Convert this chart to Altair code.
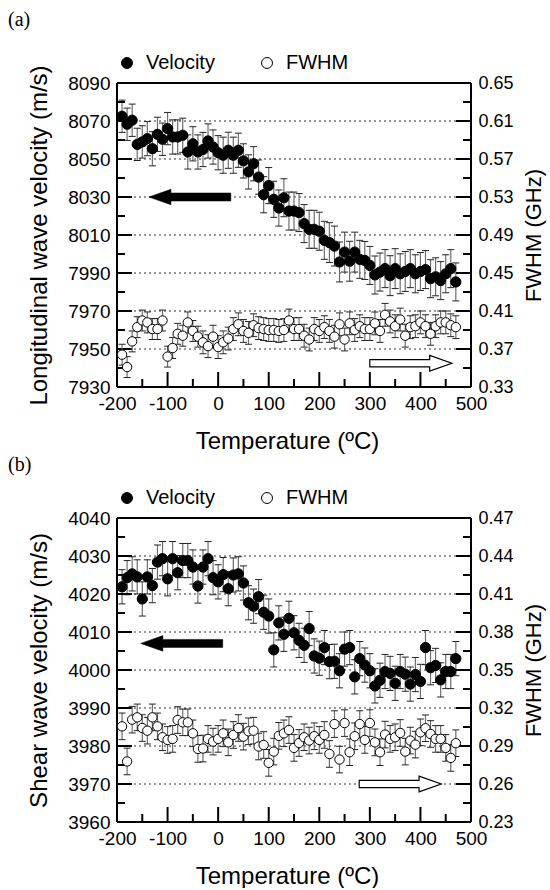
import altair as alt
import pandas as pd

FONT = "Liberation Sans"
SERIF = "Liberation Serif"

# ---------------- data ----------------
TEMPS = [-190, -180, -170, -160, -150, -140, -130, -120, -110, -100,
         -90, -80, -70, -60, -50, -40, -30, -20, -10, 0,
         10, 20, 30, 40, 50, 60, 70, 80, 90, 100,
         110, 120, 130, 140, 150, 160, 170, 180, 190, 200,
         210, 220, 230, 240, 250, 260, 270, 280, 290, 300,
         310, 320, 330, 340, 350, 360, 370, 380, 390, 400,
         410, 420, 430, 440, 450, 460, 470]

LONG_VEL = [8072.5, 8068.3, 8070.4, 8057.7, 8059.0, 8060.7, 8055.4, 8063.0, 8060.4, 8066.0,
            8061.6, 8061.6, 8062.5, 8053.7, 8058.0, 8053.7, 8055.0, 8059.5, 8056.3, 8053.3,
            8052.0, 8054.6, 8052.0, 8054.6, 8049.0, 8043.2, 8047.5, 8040.5, 8031.2, 8036.0,
            8028.8, 8024.2, 8029.6, 8022.6, 8022.6, 8021.8, 8016.0, 8013.0, 8013.0, 8012.0,
            8007.2, 8006.0, 8004.2, 7995.8, 8001.0, 7996.2, 8001.0, 7997.2, 7996.6, 7994.0,
            7989.0, 7990.5, 7992.3, 7988.6, 7992.3, 7989.6, 7990.8, 7992.3, 7989.6, 7990.8,
            7991.8, 7987.0, 7988.0, 7986.0, 7989.6, 7992.3, 7985.3]
LONG_VEL_ERR = [8.5, 8.5, 8.5, 8.5, 8.5, 9.0, 9.0, 9.0, 8.5, 8.5,
                9.0, 9.0, 9.0, 9.0, 9.0, 9.0, 9.0, 9.0, 9.0, 9.0,
                9.5, 9.5, 9.5, 9.0, 9.0, 9.0, 9.0, 9.0, 9.5, 9.5,
                9.5, 9.5, 10.0, 10.0, 10.0, 10.0, 10.0, 10.0, 10.0, 10.0,
                10.0, 10.5, 10.5, 10.5, 10.5, 10.5, 10.5, 10.0, 10.0, 10.0,
                10.0, 10.0, 10.0, 10.5, 10.5, 10.5, 10.5, 10.0, 10.0, 10.0,
                10.0, 10.0, 10.0, 10.0, 10.0, 10.0, 10.0]
LONG_FWHM = [0.364, 0.351, 0.378, 0.393, 0.400, 0.398, 0.391, 0.391, 0.400, 0.362,
             0.371, 0.386, 0.384, 0.398, 0.389, 0.383, 0.377, 0.373, 0.383, 0.372,
             0.377, 0.381, 0.391, 0.396, 0.389, 0.387, 0.395, 0.392, 0.391, 0.390,
             0.390, 0.389, 0.390, 0.400, 0.391, 0.391, 0.384, 0.380, 0.391, 0.389,
             0.393, 0.389, 0.383, 0.396, 0.380, 0.397, 0.390, 0.394, 0.391, 0.391,
             0.397, 0.389, 0.406, 0.399, 0.394, 0.401, 0.384, 0.393, 0.394, 0.398,
             0.394, 0.386, 0.394, 0.398, 0.398, 0.395, 0.393]
LONG_FWHM_ERR = [0.011, 0.011, 0.011, 0.011, 0.011, 0.011, 0.011, 0.011, 0.011, 0.011,
                 0.011, 0.011, 0.011, 0.011, 0.011, 0.011, 0.012, 0.012, 0.012, 0.012,
                 0.012, 0.012, 0.012, 0.012, 0.012, 0.012, 0.012, 0.012, 0.012, 0.012,
                 0.012, 0.012, 0.012, 0.012, 0.012, 0.012, 0.012, 0.012, 0.012, 0.012,
                 0.012, 0.012, 0.012, 0.012, 0.012, 0.012, 0.012, 0.012, 0.012, 0.012,
                 0.012, 0.012, 0.012, 0.012, 0.012, 0.012, 0.012, 0.012, 0.012, 0.012,
                 0.012, 0.012, 0.012, 0.012, 0.012, 0.012, 0.012]

SHEAR_VEL = [4021.9, 4024.3, 4025.3, 4024.5, 4018.7, 4024.5, 4022.2, 4028.4, 4029.3, 4024.0,
             4029.3, 4025.6, 4028.8, 4028.8, 4027.1, 4022.1, 4027.1, 4029.3, 4024.3, 4023.2,
             4025.1, 4021.4, 4025.0, 4025.3, 4022.9, 4017.7, 4016.8, 4019.3, 4015.2, 4014.2,
             4005.3, 4012.4, 4009.4, 4013.6, 4009.8, 4007.8, 4006.5, 4010.9, 4003.7, 4003.1,
             4005.9, 4002.2, 4002.3, 3999.8, 4005.5, 4005.9, 3998.2, 4003.0, 4001.3, 3999.8,
             3995.8, 3997.3, 3999.6, 3999.1, 3996.5, 3999.6, 3998.9, 3996.3, 3998.8, 3997.0,
             4005.9, 4000.6, 4001.2, 3997.4, 3999.6, 3999.6, 4003.0]
SHEAR_VEL_ERR = [4.5, 4.5, 4.5, 4.5, 4.5, 4.5, 4.5, 4.5, 4.5, 4.5,
                 4.5, 4.5, 4.5, 4.5, 4.5, 4.5, 4.5, 4.5, 4.5, 4.5,
                 4.5, 4.5, 4.5, 4.5, 4.5, 4.5, 4.5, 4.5, 4.5, 4.5,
                 4.5, 4.5, 4.5, 4.5, 4.5, 4.5, 4.5, 4.5, 4.5, 4.5,
                 4.5, 4.5, 4.5, 4.5, 4.5, 4.5, 4.5, 4.5, 4.5, 4.5,
                 4.5, 4.5, 4.5, 4.5, 4.5, 4.5, 4.5, 4.5, 4.5, 4.5,
                 4.5, 4.5, 4.5, 4.5, 4.5, 4.5, 4.5]
SHEAR_FWHM = [0.3055, 0.2778, 0.3108, 0.3126, 0.3042, 0.3021, 0.3126, 0.3055, 0.2969, 0.2948,
              0.2956, 0.3105, 0.3087, 0.3087, 0.3000, 0.2877, 0.2880, 0.2956, 0.2935, 0.2956,
              0.3000, 0.2929, 0.2987, 0.3042, 0.2974, 0.3016, 0.3021, 0.2896, 0.2908, 0.2767,
              0.2856, 0.2980, 0.3000, 0.3026, 0.2885, 0.2924, 0.2969, 0.2943, 0.2977, 0.2948,
              0.2987, 0.2837, 0.3073, 0.2793, 0.3081, 0.2851, 0.2977, 0.3073, 0.2948, 0.3081,
              0.2929, 0.2851, 0.2990, 0.2956, 0.2969, 0.3003, 0.2856, 0.2943, 0.2911, 0.3008,
              0.3040, 0.2995, 0.2956, 0.2956, 0.2885, 0.2806, 0.2922]
SHEAR_FWHM_ERR = [0.0105, 0.0105, 0.0105, 0.0105, 0.0105, 0.0105, 0.0105, 0.0105, 0.0105, 0.0105,
                  0.0105, 0.0105, 0.0105, 0.0105, 0.0105, 0.0105, 0.0105, 0.0105, 0.0105, 0.0105,
                  0.0105, 0.0105, 0.0105, 0.0105, 0.0105, 0.0105, 0.0105, 0.0105, 0.0105, 0.0105,
                  0.0105, 0.0105, 0.0105, 0.0105, 0.0105, 0.0105, 0.0105, 0.0105, 0.0105, 0.0105,
                  0.0105, 0.0105, 0.0105, 0.0105, 0.0105, 0.0105, 0.0105, 0.0105, 0.0105, 0.0105,
                  0.0105, 0.0105, 0.0105, 0.0105, 0.0105, 0.0105, 0.0105, 0.0105, 0.0105, 0.0105,
                  0.0105, 0.0105, 0.0105, 0.0105, 0.0105, 0.0105, 0.0105]

# axis ranges, ticks, labels
X_DOMAIN = [-200, 500]
X_LABELS = [-200, -100, 0, 100, 200, 300, 400, 500]
X_MAJOR = [-100, 0, 100, 200, 300, 400]
X_MINOR = [-150, -50, 50, 150, 250, 350, 450]

TOP_V_DOMAIN = [7930, 8090]
TOP_F_DOMAIN = [0.33, 0.65]
TOP_V_LABELS = [7930, 7950, 7970, 7990, 8010, 8030, 8050, 8070, 8090]
TOP_V_GRID = [7950, 7970, 7990, 8010, 8030, 8050, 8070]
TOP_V_MINOR = [7940, 7960, 7980, 8000, 8020, 8040, 8060, 8080]
TOP_F_LABELS = [0.33, 0.37, 0.41, 0.45, 0.49, 0.53, 0.57, 0.61, 0.65]

BOT_V_DOMAIN = [3960, 4040]
BOT_F_DOMAIN = [0.23, 0.47]
BOT_V_LABELS = [3960, 3970, 3980, 3990, 4000, 4010, 4020, 4030, 4040]
BOT_V_GRID = [3970, 3980, 3990, 4000, 4010, 4020, 4030]
BOT_V_MINOR = [3965, 3975, 3985, 3995, 4005, 4015, 4025, 4035]
BOT_F_LABELS = [0.23, 0.26, 0.29, 0.32, 0.35, 0.38, 0.41, 0.44, 0.47]

# arrow annotations (temperature, velocity)
TOP_ARROW_FILLED = (-56, 8030)
TOP_ARROW_OPEN = (381, 7942.5)
BOT_ARROW_FILLED = (-72, 4007)
BOT_ARROW_OPEN = (360, 3970)

W, H = 354, 304

LEFT_ARROW = "M -1 0 L -0.46 -0.19 L -0.46 -0.098 L 1 -0.098 L 1 0.098 L -0.46 0.098 L -0.46 0.19 Z"
RIGHT_ARROW = "M -1 -0.088 L 0.46 -0.088 L 0.46 -0.19 L 1 0 L 0.46 0.19 L 0.46 0.088 L -1 0.088 Z"


def panel(tag, vel, verr, fw, ferr, vdom, fdom, vlabels, vgrid, vminor, flabels,
          ytitle, arrow_filled, arrow_open, title_offset):
    dv = pd.DataFrame({"T": TEMPS, "v": vel, "e": verr})
    dv["lo"] = dv["v"] - dv["e"]
    dv["hi"] = dv["v"] + dv["e"]
    dv["series"] = "Velocity"
    dfw = pd.DataFrame({"T": TEMPS, "f": fw, "e": ferr})
    dfw["lo"] = dfw["f"] - dfw["e"]
    dfw["hi"] = dfw["f"] + dfw["e"]
    dfw["series"] = "FWHM"

    xs = alt.Scale(domain=X_DOMAIN, nice=False, zero=False)
    xa = alt.Axis(values=X_LABELS, ticks=False, domain=False, grid=False,
                  labelExpr="'' + datum.value", labelFontSize=19, labelPadding=7,
                  labelFlush=False, labelOverlap=False,
                  labelFont=FONT, labelColor="black",
                  title="Temperature (ºC)", titleFont=FONT, titleFontSize=24,
                  titleFontWeight="normal", titleColor="black", titlePadding=16,
                  titleX=170)
    vs = alt.Scale(domain=vdom, nice=False, zero=False)
    va = alt.Axis(values=vlabels, orient="left", ticks=False, domain=False, grid=False,
                  labelFontSize=19, labelPadding=7, labelFont=FONT, labelColor="black",
                  labelOverlap=False, labelFlush=False,
                  format="d", title=ytitle, titleFont=FONT, titleFontSize=24,
                  titleFontWeight="normal", titleColor="black", titlePadding=16)
    fs = alt.Scale(domain=fdom, nice=False, zero=False)
    fa = alt.Axis(values=flabels, orient="right", ticks=False, domain=False, grid=False,
                  labelFontSize=18, labelPadding=7, labelFont=FONT, labelColor="black",
                  labelOverlap=False, labelFlush=False,
                  labelExpr="format(datum.value, '.2f')",
                  title="FWHM (GHz)", titleFont=FONT, titleFontSize=22,
                  titleFontWeight="normal", titleColor="black", titlePadding=10,
                  titleAngle=270, titleBaseline="top")

    def X(f):
        return alt.X(f, type="quantitative", scale=xs, axis=xa)

    def VY(f):
        return alt.Y(f, type="quantitative", scale=vs, axis=va)

    def FY(f):
        return alt.Y(f, type="quantitative", scale=fs, axis=fa)

    fill_scale = alt.Scale(domain=["Velocity", "FWHM"], range=["black", "white"])
    legend = alt.Legend(orient="none", legendX=0, legendY=-30, direction="horizontal",
                        title=None, labelFont=FONT, labelFontSize=20, labelColor="black",
                        symbolType="circle", symbolSize=120, symbolStrokeColor="black",
                        symbolStrokeWidth=1, columnPadding=42, labelOffset=9, padding=0)

    grid = alt.Chart(pd.DataFrame({"g": vgrid})).mark_rule(
        strokeDash=[2, 3], color="#333", strokeWidth=1).encode(y=VY("g"))

    # frame drawn at the scale domain edges
    frame_v = alt.Chart(pd.DataFrame({"x0": X_DOMAIN})).mark_rule(
        color="black", strokeWidth=2).encode(x=X("x0"))
    frame_h = alt.Chart(pd.DataFrame({"y0": vdom})).mark_rule(
        color="black", strokeWidth=2).encode(y=VY("y0"))

    # inward ticks, anchored on the frame edges
    def yticks(vals, edge, size, off):
        d = pd.DataFrame({"t": vals})
        d["x0"] = edge
        return alt.Chart(d).mark_tick(orient="horizontal", size=size, thickness=2,
                                      color="black", opacity=1, xOffset=off).encode(
            x=X("x0"), y=VY("t"))

    def xticks(vals, size):
        d = pd.DataFrame({"t": vals})
        d["y0"] = vdom[0]
        return alt.Chart(d).mark_tick(orient="vertical", size=size, thickness=2,
                                      color="black", opacity=1, yOffset=-size / 2).encode(
            x=X("t"), y=VY("y0"))

    lt_major = yticks(vgrid, X_DOMAIN[0], 15, 7.5)
    lt_minor = yticks(vminor, X_DOMAIN[0], 8, 4)
    rt_major = yticks(vgrid, X_DOMAIN[1], 15, -7.5)
    rt_minor = yticks(vminor, X_DOMAIN[1], 8, -4)
    xt_major = xticks(X_MAJOR, 15)
    xt_minor = xticks(X_MINOR, 8)

    bv = alt.Chart(dv)
    v_stem = bv.mark_rule(color="#6e6e6e", strokeWidth=1.2).encode(x=X("T"), y=VY("lo"), y2="hi")
    v_cap_lo = bv.mark_tick(orient="horizontal", size=7, thickness=1, color="#222", opacity=1).encode(
        x=X("T"), y=VY("lo"))
    v_cap_hi = bv.mark_tick(orient="horizontal", size=7, thickness=1, color="#222", opacity=1).encode(
        x=X("T"), y=VY("hi"))
    v_pts = bv.mark_point(shape="circle", size=105, filled=True, stroke="black",
                          strokeWidth=1, opacity=1).encode(
        x=X("T"), y=VY("v"), fill=alt.Fill("series:N", scale=fill_scale, legend=legend))

    arr1 = alt.Chart(pd.DataFrame({"T": [arrow_filled[0]], "v": [arrow_filled[1]]})).mark_point(
        shape=LEFT_ARROW, size=6724, filled=True, fill="black", stroke="black",
        strokeWidth=0.5, opacity=1).encode(x=X("T"), y=VY("v"))
    arr2 = alt.Chart(pd.DataFrame({"T": [arrow_open[0]], "v": [arrow_open[1]]})).mark_point(
        shape=RIGHT_ARROW, size=6724, filled=True, fill="white", stroke="black",
        strokeWidth=1.2, opacity=1, fillOpacity=1, strokeOpacity=1).encode(x=X("T"), y=VY("v"))

    bf = alt.Chart(dfw)
    f_stem = bf.mark_rule(color="#6e6e6e", strokeWidth=1.2).encode(x=X("T"), y=FY("lo"), y2="hi")
    f_cap_lo = bf.mark_tick(orient="horizontal", size=7, thickness=1, color="#222", opacity=1).encode(
        x=X("T"), y=FY("lo"))
    f_cap_hi = bf.mark_tick(orient="horizontal", size=7, thickness=1, color="#222", opacity=1).encode(
        x=X("T"), y=FY("hi"))
    f_pts = bf.mark_point(shape="circle", size=88, filled=True, stroke="black",
                          strokeWidth=1, opacity=1).encode(
        x=X("T"), y=FY("f"), fill=alt.Fill("series:N", scale=fill_scale, legend=legend))

    vel_layer = alt.layer(grid, v_stem, v_cap_lo, v_cap_hi, v_pts, arr1, arr2,
                          frame_v, frame_h, lt_major, lt_minor, rt_major, rt_minor,
                          xt_major, xt_minor)
    fw_layer = alt.layer(f_stem, f_cap_lo, f_cap_hi, f_pts)
    return alt.layer(vel_layer, fw_layer).resolve_scale(y="independent").properties(
        width=W, height=H,
        title=alt.TitleParams(tag, anchor="start", frame="group", font=SERIF, fontSize=20,
                              fontWeight="normal", color="black", dx=-109,
                              offset=title_offset))


top = panel("(a)", LONG_VEL, LONG_VEL_ERR, LONG_FWHM, LONG_FWHM_ERR, TOP_V_DOMAIN, TOP_F_DOMAIN,
            TOP_V_LABELS, TOP_V_GRID, TOP_V_MINOR, TOP_F_LABELS,
            "Longitudinal wave velocity (m/s)", TOP_ARROW_FILLED, TOP_ARROW_OPEN, 23)
bottom = panel("(b)", SHEAR_VEL, SHEAR_VEL_ERR, SHEAR_FWHM, SHEAR_FWHM_ERR, BOT_V_DOMAIN, BOT_F_DOMAIN,
               BOT_V_LABELS, BOT_V_GRID, BOT_V_MINOR, BOT_F_LABELS,
               "Shear wave velocity (m/s)", BOT_ARROW_FILLED, BOT_ARROW_OPEN, 13)

chart = alt.vconcat(top, bottom, spacing=2).resolve_scale(fill="independent").resolve_legend(
    fill="independent").properties(
    padding={"left": 8, "top": 10, "right": 2, "bottom": 0}, background="white"
).configure_view(strokeWidth=0)

chart.save("out.html", embed_options={"renderer": "svg", "actions": False})
